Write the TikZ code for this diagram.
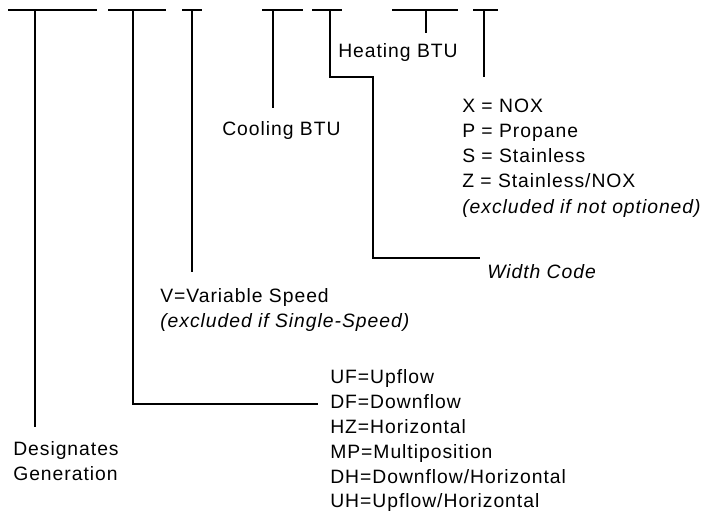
\documentclass[tikz,border=0pt]{standalone}
\usepackage{fontspec}
\setmainfont{Liberation Sans}[LetterSpace=5]
\begin{document}
\begin{tikzpicture}[x=0.75pt,y=-0.75pt,
  bar/.style={line width=1.4pt,draw=black},
  lbl/.style={anchor=base west,inner sep=0pt,font=\fontsize{14.5}{17}\selectfont,text=black},
  ilbl/.style={lbl,font=\fontsize{14.5}{17}\selectfont\itshape}]
\useasboundingbox (0,0) rectangle (705,527);
% top bars
\coordinate (b1l) at (8,10);   \coordinate (b1r) at (97,10);  \coordinate (b1) at (35,10);
\coordinate (b2l) at (108,10); \coordinate (b2r) at (166,10); \coordinate (b2) at (133,10);
\coordinate (b3l) at (182,10); \coordinate (b3r) at (202,10); \coordinate (b3) at (192,10);
\coordinate (b4l) at (262,10); \coordinate (b4r) at (303,10); \coordinate (b4) at (273,10);
\coordinate (b5l) at (312,10); \coordinate (b5r) at (342,10); \coordinate (b5) at (330,10);
\coordinate (b6l) at (392,10); \coordinate (b6r) at (458,10); \coordinate (b6) at (426,10);
\coordinate (b7l) at (473,10); \coordinate (b7r) at (498,10); \coordinate (b7) at (484,10);
\foreach \i in {1,...,7}{\draw[bar] (b\i l) -- (b\i r);}
% labels
\node[lbl] (heat) at (338,58) {Heating BTU};
\node[lbl] (cool) at (222,136) {Cooling BTU};
\node[lbl] (x1) at (462,113) {X = NOX};
\node[lbl] (x2) at (462,138) {P = Propane};
\node[lbl] (x3) at (462,163) {S = Stainless};
\node[lbl] (x4) at (462,188) {Z = Stainless/NOX};
\node[ilbl] (x5) at (462,213) {(excluded if not optioned)};
\node[ilbl] (width) at (487,278) {Width Code};
\node[lbl] (v1) at (160,302) {V=Variable Speed};
\node[ilbl] (v2) at (160,327) {(excluded if Single-Speed)};
\node[lbl] (u1) at (330,383) {UF=Upflow};
\node[lbl] (u2) at (330,408) {DF=Downflow};
\node[lbl] (u3) at (330,433) {HZ=Horizontal};
\node[lbl] (u4) at (330,458) {MP=Multiposition};
\node[lbl] (u5) at (330,483) {DH=Downflow/Horizontal};
\node[lbl] (u6) at (330,507) {UH=Upflow/Horizontal};
\node[lbl] (g1) at (13,455) {Designates};
\node[lbl] (g2) at (13,480) {Generation};
% stem ends
\coordinate (e1) at (35,427);
\coordinate (e2a) at (133,404); \coordinate (e2) at (318,404);
\coordinate (e3) at (192,272);
\coordinate (e4) at (273,108);
\coordinate (e5a) at (330,77); \coordinate (e5b) at (373,77); \coordinate (e5c) at (373,258); \coordinate (e5) at (480,258);
\coordinate (e6) at (426,33);
\coordinate (e7) at (484,77);
% stems
\draw[bar] (b1) -- (e1);
\draw[bar] (b2) -- (e2a) -- (e2);
\draw[bar] (b3) -- (e3);
\draw[bar] (b4) -- (e4);
\draw[bar] (b5) -- (e5a) -- (e5b) -- (e5c) -- (e5);
\draw[bar] (b6) -- (e6);
\draw[bar] (b7) -- (e7);
\end{tikzpicture}
\end{document}
